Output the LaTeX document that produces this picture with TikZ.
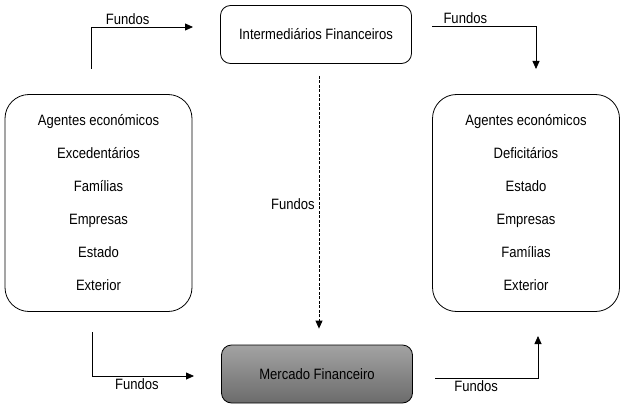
\documentclass[tikz,border=0pt]{standalone}
\usepackage{fontspec}
\setmainfont{Liberation Sans}[FakeStretch=0.87]
\usetikzlibrary{positioning, arrows.meta, calc}
\tikzset{
  agt/.style   = {draw, rounded corners=24pt, minimum width=187pt, minimum height=217pt,
                  align=center, inner sep=0pt, line width=0.8pt,
                  font=\fontsize{15}{33}\selectfont},
  blk/.style   = {draw, rounded corners=10pt, minimum width=191pt, minimum height=58pt,
                  inner sep=0pt, line width=0.8pt, font=\fontsize{15}{17}\selectfont},
  mkt/.style   = {blk, top color=black!36, bottom color=black!58},
  ar/.style    = {-{Triangle[length=8pt, width=7pt]}, line width=0.8pt},
  dar/.style   = {ar, dash pattern=on 3pt off 1.5pt},
  lbl/.style   = {font=\fontsize{15}{17}\selectfont, inner sep=2pt},
}

\begin{document}
\begin{tikzpicture}[x=1pt, y=-1pt]
  \useasboundingbox (0,0) rectangle (621,404);

  % boxes
  \node[agt] (exc) at (98.5,203)
    {Agentes económicos\\Excedentários\\Famílias\\Empresas\\Estado\\Exterior};
  \node[agt] (def) at (526,203)
    {Agentes económicos\\Deficitários\\Estado\\Empresas\\Famílias\\Exterior};
  \node[blk] (ifin) at (316,34.5) {Intermediários Financeiros};
  \node[mkt] (mfin) at (317,374) {Mercado Financeiro};

  % free ends of the connectors
  \coordinate (tl) at (91,69);   \coordinate (tlE) at (193,27);
  \coordinate (tr) at (432,26);  \coordinate (trE) at (536,69);
  \coordinate (bl) at (92,332);  \coordinate (blE) at (194,376);
  \coordinate (br) at (435,378); \coordinate (brE) at (538,336);

  \draw[ar] (tl) |- (tlE) node[lbl, above, pos=0.68] {Fundos};
  \draw[ar] (tr) -| (trE) node[lbl, above, pos=0.16] {Fundos};
  \draw[ar] (bl) |- (blE) node[lbl, below, pos=0.72] {Fundos};
  \draw[ar] (br) -| (brE) node[lbl, below, pos=0.2] {Fundos};

  \draw[dar, shorten <=12pt, shorten >=16pt] ($(ifin.south)+(3,0)$) -- ($(mfin.north)+(2,0)$)
    node[lbl, left, midway, xshift=-2pt] {Fundos};
\end{tikzpicture}
\end{document}
